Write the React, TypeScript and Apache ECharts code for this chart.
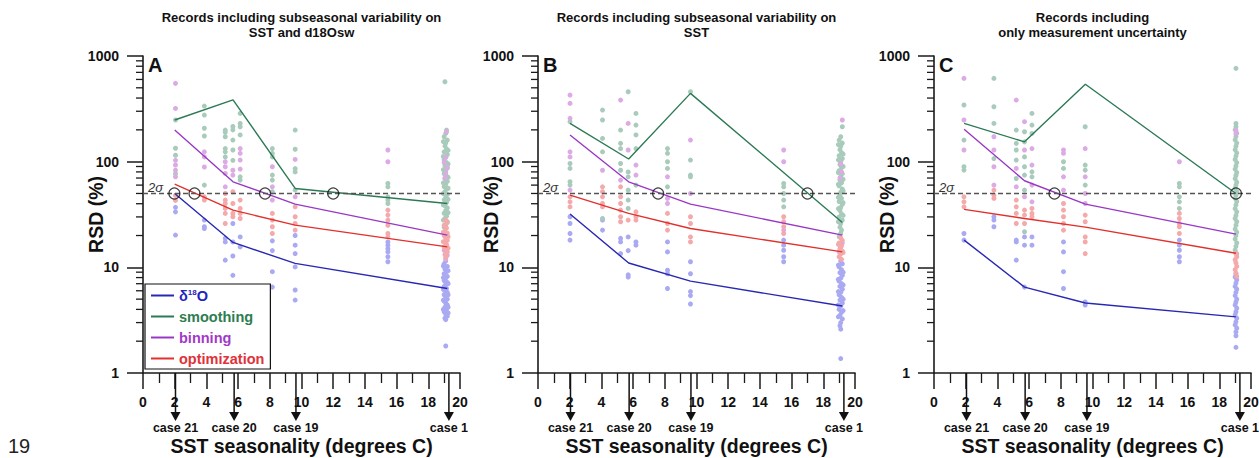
import React, { useEffect, useRef } from "react";
import * as echarts from "echarts";

const FONT = '"Liberation Sans", Arial, sans-serif';

// ---------- shared annotations ----------
const caseLabels = ["case 21", "case 20", "case 19", "case 1"];
const caseArrowX = [2.05, 5.75, 9.65, 19.3];
const sigmaLevel = 50;
const yMinorTickValues = [2, 3, 4, 5, 6, 7, 8, 9, 20, 30, 40, 50, 60, 70, 80, 90, 200, 300, 400, 500, 600, 700, 800, 900];
const legendNames = ["δ18O", "smoothing", "binning", "optimization"];

const titleA = ["Records including subseasonal variability on", "SST and d18Osw"];
const titleB = ["Records including subseasonal variability on", "SST"];
const titleC = ["Records including", "only measurement uncertainty"];

// ---------- panel A ----------
const lineXA = [2.0, 5.68, 9.6, 19.2];
const d18OA = [50, 17.2, 10.9, 6.3];
const smoothA = [248, 385, 55.8, 40.2];
const binA = [199, 64.5, 39.6, 20.2];
const optA = [61.3, 34.8, 25.1, 15.6];
const crossA = [1.98, 3.25, 7.7, 12.0];

const blueA = [
  [2.05, 37], [2.05, 33.5], [2.05, 20.2],
  [3.87, 28], [3.87, 24.2], [3.87, 23.3],
  [5.19, 18.8], [5.19, 17.4], [5.19, 11.7],
  [5.67, 26], [5.67, 17.4], [5.67, 12.8], [5.67, 8.4], [5.67, 6.5],
  [6.13, 19.4], [6.13, 15.6],
  [8.16, 17.8], [8.16, 14.4], [8.16, 9.1], [8.16, 6.5],
  [9.6, 20], [9.6, 16.2], [9.6, 13.5], [9.6, 10.1], [9.6, 6.1], [9.6, 4.9],
  [15.45, 17.4], [15.45, 16.2], [15.45, 15], [15.45, 14], [15.45, 12.6], [15.45, 11.3],
  [19.1, 11.5], [19.0, 10.8], [19.2, 10.2], [19.05, 9.6], [19.15, 9.1], [19.0, 8.7], [19.2, 8.2],
  [19.1, 7.9], [19.0, 7.5], [19.2, 7.2], [19.1, 6.9], [19.0, 6.6], [19.15, 6.3], [19.05, 6.0],
  [19.2, 5.8], [19.0, 5.5], [19.1, 5.3], [19.2, 5.0], [19.0, 4.8], [19.1, 4.6], [19.2, 4.4],
  [19.05, 4.2], [19.15, 4.0], [19.0, 3.8], [19.1, 3.6], [19.2, 3.45], [19.05, 3.3], [19.1, 3.2],
  [18.95, 10.3], [19.25, 9.3], [18.95, 8.0], [19.25, 7.0], [18.95, 6.2], [19.25, 5.5],
  [18.95, 4.9], [19.25, 4.2], [18.95, 4.0], [19.25, 3.7],
  [19.1, 1.8],
];
const greenA = [
  [2.05, 248], [2.05, 134], [2.05, 115], [2.05, 77],
  [3.87, 336], [3.87, 276], [3.87, 207], [3.87, 175], [3.87, 60],
  [5.19, 199], [5.19, 190], [5.19, 172], [5.19, 133], [5.19, 124], [5.19, 111],
  [5.67, 215], [5.67, 200], [5.67, 160], [5.67, 129], [5.67, 103],
  [6.13, 286], [6.13, 230], [6.13, 214], [6.13, 179], [6.13, 71.9], [6.13, 66.9],
  [8.16, 133], [8.16, 120], [8.16, 111], [8.16, 74.6], [8.16, 66.9], [8.16, 51.9],
  [9.6, 199], [9.6, 131], [9.6, 86], [9.6, 80], [9.6, 54],
  [15.45, 62.2], [15.45, 57.8], [15.45, 46.5], [15.45, 43.3], [15.45, 40.2],
  [19.05, 571], [19.15, 199], [19.1, 185], [19.0, 172], [19.2, 160], [19.1, 150], [19.05, 141],
  [19.15, 132], [19.0, 124], [19.2, 117], [19.1, 110], [19.0, 104], [19.15, 98], [19.05, 92],
  [19.2, 87], [19.1, 82], [19.0, 77], [19.15, 73], [19.05, 69], [19.2, 65], [19.1, 61],
  [19.0, 58], [19.15, 55], [19.05, 52], [19.2, 49], [19.1, 46], [19.0, 43.5], [19.15, 41],
  [19.05, 38.5], [19.2, 36.5], [19.1, 34.5], [19.0, 32.5], [19.15, 30.5], [19.05, 29],
  [19.2, 27], [19.1, 25.5], [19.0, 24],
  [18.95, 155], [19.25, 128], [18.95, 112], [19.25, 95], [18.95, 84], [19.25, 71], [18.95, 63],
  [19.25, 56], [18.95, 50], [19.25, 44], [18.95, 39], [19.25, 33], [18.95, 28],
];
const purpleA = [
  [2.05, 551], [2.05, 319], [2.05, 103], [2.05, 93], [2.05, 83], [2.05, 72],
  [3.87, 124], [3.87, 111], [3.87, 89],
  [5.19, 99.8], [5.19, 89.5], [5.19, 77.4], [5.19, 57.8],
  [5.67, 83], [5.67, 74.6],
  [6.13, 133], [6.13, 120], [6.13, 103.5], [6.13, 85],
  [8.16, 89.5], [8.16, 57.8], [8.16, 43.3],
  [9.6, 105], [9.6, 46.5],
  [15.45, 129], [15.45, 99.8],
  [19.15, 192], [19.1, 110], [19.0, 98], [19.2, 88], [19.1, 78], [19.05, 70],
  [19.15, 16], [19.0, 14.5], [19.2, 13], [19.1, 12],
];
const redA = [
  [2.05, 48], [2.05, 43],
  [3.87, 46.5], [3.87, 43.3],
  [5.19, 50], [5.19, 43.3], [5.19, 40.2], [5.19, 36.1], [5.19, 32.4], [5.19, 26],
  [5.67, 51.9], [5.67, 40.2], [5.67, 32.4], [5.67, 30.1],
  [6.13, 43.3], [6.13, 36.1], [6.13, 32.4], [6.13, 29],
  [8.16, 32.4], [8.16, 28], [8.16, 24.2], [8.16, 20.9],
  [9.6, 37.4], [9.6, 30.1], [9.6, 26], [9.6, 22.5],
  [15.45, 34.8], [15.45, 31.2], [15.45, 28], [15.45, 25], [15.45, 20.9], [15.45, 19.4],
  [19.1, 28], [19.2, 26.5], [19.0, 25], [19.15, 23.5], [19.05, 22], [19.2, 21], [19.0, 20],
  [19.1, 19], [19.2, 18], [19.05, 17.2], [19.15, 16.4], [19.0, 15.6], [19.1, 14.8], [19.2, 14],
  [19.05, 13.2], [19.1, 12.4], [18.95, 21.5], [19.25, 19.5], [18.95, 17.5], [19.25, 15.2],
];

// ---------- panel B ----------
const lineXB = [2.02, 5.72, 9.62, 19.2];
const d18OB = [32, 11, 7.4, 4.3];
const smoothB = [230, 106, 443, 26.6];
const binB = [179, 64.5, 39.6, 20.2];
const optB = [48.2, 32.4, 23.3, 14.0];
const crossB = [7.58, 17.0];

const blueB = [
  [2.02, 30.1], [2.02, 26], [2.02, 20.9], [2.02, 18.1],
  [4.07, 28], [4.07, 22.5],
  [5.21, 18.8], [5.21, 17.4], [5.21, 13.5],
  [5.69, 19.4], [5.69, 14.4], [5.69, 8.5], [5.69, 8.1],
  [6.18, 17.4], [6.18, 16.2],
  [8.17, 17.4], [8.17, 14], [8.17, 9.4], [8.17, 8.7], [8.17, 6.3],
  [9.62, 11.3], [9.62, 8.7], [9.62, 5.9], [9.62, 5.4], [9.62, 4.5],
  [15.5, 18.1], [15.5, 16.2], [15.5, 14.5], [15.5, 12.6], [15.5, 11.3],
  [19.1, 11.5], [19.2, 10.8], [19.0, 10.1], [19.15, 9.5], [19.05, 8.9], [19.2, 8.4], [19.1, 7.9],
  [19.0, 7.4], [19.15, 7.0], [19.05, 6.6], [19.2, 6.2], [19.1, 5.8], [19.0, 5.5], [19.15, 5.2],
  [19.05, 4.9], [19.2, 4.6], [19.1, 4.3], [19.0, 4.0], [19.15, 3.75], [19.05, 3.5], [19.2, 3.25],
  [19.1, 3.0], [19.05, 2.8], [19.1, 2.6],
  [18.95, 10.5], [19.25, 9.0], [18.95, 7.7], [19.25, 6.8], [18.95, 5.9], [19.25, 5.0],
  [18.95, 4.4], [19.25, 3.9], [18.95, 3.4],
  [19.1, 1.37],
];
const greenB = [
  [2.02, 239], [2.02, 96], [2.02, 86.3], [2.02, 64.5], [2.02, 60],
  [4.07, 308], [4.07, 248], [4.07, 166], [4.07, 124], [4.07, 29],
  [5.21, 199], [5.21, 149], [5.21, 133], [5.21, 96], [5.21, 83],
  [5.69, 459], [5.69, 80], [5.69, 71.9], [5.69, 53.8], [5.69, 43.3], [5.69, 36.1],
  [6.18, 286], [6.18, 222], [6.18, 179], [6.18, 133], [6.18, 60],
  [8.17, 133], [8.17, 120], [8.17, 99.8], [8.17, 86.3], [8.17, 57.8],
  [9.62, 459], [9.62, 103.5], [9.62, 74.6], [9.62, 71.9],
  [15.5, 62.2], [15.5, 57.8], [15.5, 50], [15.5, 43.3], [15.5, 37.4],
  [19.2, 214], [19.1, 172], [19.0, 160], [19.2, 150], [19.1, 140], [19.05, 130], [19.15, 122],
  [19.0, 114], [19.2, 107], [19.1, 100], [19.05, 94], [19.15, 88], [19.0, 82], [19.2, 77],
  [19.1, 72], [19.05, 67], [19.15, 63], [19.0, 59], [19.2, 55], [19.1, 51.5], [19.05, 48],
  [19.15, 45], [19.0, 42], [19.2, 39.5], [19.1, 37], [19.05, 34.5], [19.15, 32], [19.0, 30],
  [19.2, 28], [19.1, 26], [19.05, 24], [19.15, 22.5], [19.1, 21], [19.0, 19.5],
  [18.95, 145], [19.25, 118], [18.95, 104], [19.25, 90], [18.95, 79], [19.25, 68], [18.95, 61],
  [19.25, 53], [18.95, 46], [19.25, 41], [18.95, 36], [19.25, 31], [18.95, 27],
];
const purpleB = [
  [2.02, 427], [2.02, 356], [2.02, 257], [2.02, 124], [2.02, 111], [2.02, 53.8],
  [4.07, 83],
  [5.21, 383], [5.21, 66.9],
  [5.69, 230], [5.69, 129],
  [6.18, 92.9], [6.18, 74.6],
  [8.17, 71.9], [8.17, 44.9], [8.17, 40.2],
  [9.62, 160], [9.62, 50],
  [15.5, 129], [15.5, 99.8], [15.5, 22.5],
  [19.2, 248], [19.1, 95], [19.15, 80], [19.05, 70], [19.2, 17], [19.1, 15.5], [19.0, 14],
];
const redB = [
  [2.02, 46.5], [2.02, 41.7], [2.02, 37.4],
  [4.07, 57.8], [4.07, 51.9], [4.07, 46.5], [4.07, 40.2], [4.07, 37.4],
  [5.21, 57.8], [5.21, 46.5], [5.21, 40.2], [5.21, 34.8], [5.21, 30.1], [5.21, 27],
  [5.69, 28],
  [6.18, 33.5], [6.18, 30.1], [6.18, 28],
  [8.17, 32.4], [8.17, 26], [8.17, 22.5],
  [9.62, 30.1], [9.62, 26], [9.62, 19.4], [9.62, 17.4],
  [15.5, 30.1], [15.5, 27], [15.5, 24.2], [15.5, 20.9],
  [19.1, 19], [19.2, 18], [19.0, 17], [19.15, 16], [19.05, 15], [19.2, 14.2], [19.1, 13.4],
  [19.0, 12.6], [19.15, 11.9], [18.95, 16.5], [19.25, 13.8],
];

// ---------- panel C ----------
const lineXC = [1.9, 5.71, 9.55, 19.05];
const d18OC = [18.1, 6.5, 4.6, 3.4];
const smoothC = [230, 154, 540, 50];
const binC = [203, 66, 39.6, 20.6];
const optC = [35.4, 29, 24, 13.6];
const crossC = [7.6, 19.05];

const blueC = [
  [1.89, 20.9], [1.89, 18.1],
  [3.78, 30.1], [3.78, 28], [3.78, 24.2],
  [5.19, 18.1], [5.19, 17.4], [5.19, 11.7],
  [5.71, 19.4], [5.71, 16.2], [5.71, 6.5],
  [6.18, 19.4], [6.18, 16.2],
  [8.17, 17.4], [8.17, 14], [8.17, 9.1], [8.17, 6.3],
  [9.54, 4.7], [9.54, 4.4],
  [15.48, 18.1], [15.48, 16.2], [15.48, 14.5], [15.48, 12.6], [15.48, 11.3],
  [19.05, 8.7], [19.0, 8.1], [19.1, 7.6], [19.05, 7.1], [19.0, 6.6], [19.1, 6.2], [19.05, 5.8],
  [19.0, 5.4], [19.1, 5.0], [19.05, 4.7], [19.0, 4.4], [19.1, 4.1], [19.05, 3.8], [19.0, 3.55],
  [19.1, 3.3], [19.05, 3.05], [19.0, 2.85], [19.1, 2.65], [19.05, 2.45], [19.05, 2.25],
  [19.05, 1.75],
];
const greenC = [
  [1.89, 344], [1.89, 160], [1.89, 89.5], [1.89, 83.2],
  [3.78, 614], [3.78, 331], [3.78, 230], [3.78, 107],
  [5.19, 199], [5.19, 149], [5.19, 129], [5.19, 103.5], [5.19, 69.3],
  [5.71, 192], [5.71, 154], [5.71, 111], [5.71, 89.5], [5.71, 74.6], [5.71, 53.8], [5.71, 21.7],
  [6.18, 286], [6.18, 222], [6.18, 185], [6.18, 80.2], [6.18, 71.9],
  [8.17, 99.8], [8.17, 86.3],
  [9.54, 214], [9.54, 92.9], [9.54, 83.2], [9.54, 60],
  [15.48, 62.2], [15.48, 57.8], [15.48, 46.5], [15.48, 41.7], [15.48, 36.1],
  [19.05, 764], [19.05, 230], [19.05, 214], [19.0, 200], [19.1, 186], [19.05, 173], [19.0, 161],
  [19.1, 150], [19.05, 140], [19.0, 130], [19.1, 121], [19.05, 113], [19.0, 105], [19.1, 98],
  [19.05, 91], [19.0, 85], [19.1, 79], [19.05, 74], [19.0, 69], [19.1, 64], [19.05, 60],
  [19.0, 56], [19.1, 52], [19.05, 48], [19.0, 45], [19.1, 42], [19.05, 39], [19.0, 36],
  [19.1, 33.5], [19.05, 31], [19.0, 29], [19.1, 27], [19.05, 25], [19.0, 23], [19.1, 21.5],
  [19.05, 20], [19.0, 18.5], [19.1, 17], [19.05, 15.8], [19.0, 14.6], [19.1, 13.5],
];
const purpleC = [
  [1.89, 614], [1.89, 248], [1.89, 129],
  [3.78, 172], [3.78, 129], [3.78, 89.5], [3.78, 60],
  [5.19, 383], [5.19, 86.3], [5.19, 57.8],
  [5.71, 239], [5.71, 129], [5.71, 46.5],
  [6.18, 133], [6.18, 92.9], [6.18, 60], [6.18, 41.7],
  [8.17, 129], [8.17, 120], [8.17, 71.9], [8.17, 53.8],
  [9.54, 133], [9.54, 71.9], [9.54, 50], [9.54, 40.2],
  [15.48, 99.8],
  [19.05, 199], [19.05, 185],
];
const redC = [
  [1.89, 46.5], [1.89, 41.7], [1.89, 37.4],
  [3.78, 53.8], [3.78, 48.2], [3.78, 44.9],
  [5.19, 43.3], [5.19, 37.4], [5.19, 32.4], [5.19, 26],
  [5.71, 34.8], [5.71, 31.2], [5.71, 26],
  [6.18, 36.1], [6.18, 32.4], [6.18, 30.1],
  [8.17, 40.2], [8.17, 34.8], [8.17, 30.1], [8.17, 26], [8.17, 22.5],
  [9.54, 31.2], [9.54, 27], [9.54, 19.4], [9.54, 17.4], [9.54, 13.5],
  [15.48, 32.4], [15.48, 29], [15.48, 26], [15.48, 24.2], [15.48, 20.9],
  [19.05, 13.5], [19.1, 12.6], [19.0, 11.8], [19.05, 11], [19.1, 10.2], [19.0, 9.5],
  [19.05, 8.8], [19.1, 8.2],
];

// ---------- styling ----------
const lineColors = ["#2828b4", "#2c7a55", "#9a38c6", "#e2302c"];
const legendTextColors = ["#2323c0", "#2e7d50", "#a238c8", "#e03238"];
const dotColors = ["#aaaaf2", "#a9cbbb", "#dcaae4", "#f4a9ab"];
const AXIS = "#1a1a1a";

const panels = [
  { letter: "A", title: titleA, left: 143, lineX: lineXA, lines: [d18OA, smoothA, binA, optA], dots: [blueA, greenA, purpleA, redA], cross: crossA },
  { letter: "B", title: titleB, left: 538, lineX: lineXB, lines: [d18OB, smoothB, binB, optB], dots: [blueB, greenB, purpleB, redB], cross: crossB },
  { letter: "C", title: titleC, left: 934, lineX: lineXC, lines: [d18OC, smoothC, binC, optC], dots: [blueC, greenC, purpleC, redC], cross: crossC },
];
const GRID_TOP = 56;
const GRID_W = 317;
const GRID_H = 317;

function buildOption() {
  const grid: any[] = [];
  const xAxis: any[] = [];
  const yAxis: any[] = [];
  const series: any[] = [];
  const graphic: any[] = [];

  panels.forEach((p, i) => {
    grid.push({ left: p.left, top: GRID_TOP, width: GRID_W, height: GRID_H, containLabel: false, outerBoundsMode: "none" });
    xAxis.push({
      type: "value", gridIndex: i, min: 0, max: 20, interval: 2,
      axisLine: { show: true, onZero: false, lineStyle: { color: AXIS, width: 1.6 } },
      axisTick: { show: true, length: 16, lineStyle: { color: AXIS, width: 1.5 } },
      minorTick: { show: true, splitNumber: 2, length: 10, lineStyle: { color: AXIS, width: 1.3 } },
      axisLabel: { margin: 22, fontSize: 14, fontWeight: "bold", color: "#111", fontFamily: FONT },
      splitLine: { show: false }, minorSplitLine: { show: false },
      name: "SST seasonality (degrees C)", nameLocation: "middle", nameGap: 63, nameMoveOverlap: false,
      nameTextStyle: { fontSize: 19.5, fontWeight: "bold", color: "#111", fontFamily: FONT },
    });
    yAxis.push({
      type: "log", logBase: 10, gridIndex: i, min: 1, max: 1000,
      axisLine: { show: true, lineStyle: { color: AXIS, width: 1.6 } },
      axisTick: { show: true, length: 16, lineStyle: { color: AXIS, width: 1.5 } },
      axisLabel: { margin: 24, fontSize: 14, fontWeight: "bold", color: "#111", fontFamily: FONT, formatter: (v: number) => String(Math.round(v)) },
      splitLine: { show: false },
      name: "RSD (%)", nameLocation: "middle", nameGap: 37, nameMoveOverlap: false,
      nameTextStyle: { fontSize: 19.5, fontWeight: "bold", color: "#111", fontFamily: FONT },
    });

    // scatter clouds
    p.dots.forEach((d, k) => {
      series.push({
        type: "scatter", xAxisIndex: i, yAxisIndex: i, data: d, symbolSize: 5, silent: true, z: 2,
        itemStyle: { color: dotColors[k], opacity: 1 },
      });
    });
    // summary lines
    p.lines.forEach((vals, k) => {
      series.push({
        type: "line", name: legendNames[k], xAxisIndex: i, yAxisIndex: i,
        data: p.lineX.map((x, j) => [x, vals[j]]), showSymbol: false, silent: true, z: 3,
        lineStyle: { color: lineColors[k], width: 1.4 }, itemStyle: { color: lineColors[k] },
      });
    });
    // 2 sigma dashed line
    series.push({
      type: "line", xAxisIndex: i, yAxisIndex: i, data: [[0, sigmaLevel], [20, sigmaLevel]],
      showSymbol: false, silent: true, z: 4,
      lineStyle: { color: "#555", width: 1.5, type: [5, 3] },
    });
    // crossing circles
    series.push({
      type: "scatter", xAxisIndex: i, yAxisIndex: i, data: p.cross.map((x) => [x, sigmaLevel]),
      symbol: "circle", symbolSize: 11, silent: true, z: 5,
      itemStyle: { color: "rgba(0,0,0,0)", borderColor: "#111", borderWidth: 1.2 },
    });
    // y minor ticks
    series.push({
      type: "custom", xAxisIndex: i, yAxisIndex: i, silent: true, z: 6, clip: false,
      data: yMinorTickValues.map((v) => [0, v]), encode: { x: 0, y: 1 },
      renderItem: (params: any, api: any) => {
        const pt = api.coord([api.value(0), api.value(1)]);
        return { type: "line", shape: { x1: pt[0] - 7, y1: pt[1], x2: pt[0], y2: pt[1] }, style: { stroke: AXIS, lineWidth: 1.3 } };
      },
    });
    // case arrows
    series.push({
      type: "custom", xAxisIndex: i, yAxisIndex: i, silent: true, z: 6, clip: false,
      data: caseArrowX.map((x, j) => [x, 1, j]), encode: { x: 0, y: 1 },
      renderItem: (params: any, api: any) => {
        const pt = api.coord([api.value(0), api.value(1)]);
        const idx = api.value(2);
        return {
          type: "group",
          children: [
            { type: "line", shape: { x1: pt[0], y1: pt[1], x2: pt[0], y2: pt[1] + 41 }, style: { stroke: "#111", lineWidth: 1.5 } },
            { type: "polygon", shape: { points: [[pt[0] - 5, pt[1] + 39], [pt[0] + 5, pt[1] + 39], [pt[0], pt[1] + 48]] }, style: { fill: "#111" } },
            {
              type: "text", x: pt[0], y: pt[1] + 55,
              style: { text: caseLabels[idx], align: "center", verticalAlign: "middle", textAlign: "center", textVerticalAlign: "middle", fontSize: 12.5, fontWeight: "bold", fontFamily: FONT, fill: "#111" },
            },
          ],
        };
      },
    });

    const cx = p.left + GRID_W / 2;
    p.title.forEach((t, j) => {
      graphic.push({
        type: "text", x: cx, y: 17 + j * 15.6, silent: true,
        style: { text: t, align: "center", verticalAlign: "middle", textAlign: "center", textVerticalAlign: "middle", fontSize: 13, fontWeight: "bold", fontFamily: FONT, fill: "#111" },
      });
    });
    graphic.push({
      type: "text", x: p.left + 5, y: 65, silent: true,
      style: { text: p.letter, align: "left", verticalAlign: "middle", textAlign: "left", textVerticalAlign: "middle", fontSize: 20, fontWeight: "bold", fontFamily: FONT, fill: "#111" },
    });
    graphic.push({
      type: "text", x: p.left + 5, y: 187, silent: true,
      style: { text: "2σ", align: "left", verticalAlign: "middle", textAlign: "left", textVerticalAlign: "middle", fontSize: 13, fontStyle: "italic", fontFamily: FONT, fill: "#333" },
    });
  });

  graphic.push({
    type: "text", x: 8, y: 446, silent: true,
    style: { text: "19", align: "left", verticalAlign: "middle", textAlign: "left", textVerticalAlign: "middle", fontSize: 20, fontFamily: FONT, fill: "#222" },
  });

  return {
    animation: false,
    backgroundColor: "#fff",
    textStyle: { fontFamily: FONT },
    grid, xAxis, yAxis, series, graphic,
    legend: {
      left: 145, top: 284, orient: "vertical", icon: "rect", itemWidth: 23, itemHeight: 2, itemGap: 4,
      padding: [3, 6, 2, 6], borderColor: "#111", borderWidth: 1.2, backgroundColor: "#fff",
      selectedMode: false, z: 10,
      formatter: (name: string) => (name === "δ18O" ? "{d|δ}{s|18}{d|O}" : name),
      textStyle: {
        fontSize: 14.5, fontWeight: "bold", fontFamily: FONT, lineHeight: 17,
        rich: {
          d: { fontSize: 14.5, fontWeight: "bold", color: legendTextColors[0], fontFamily: FONT },
          s: { fontSize: 8, fontWeight: "bold", color: legendTextColors[0], fontFamily: FONT, padding: [0, 0, 7, 0] },
        },
      },
      data: legendNames.map((n, k) => ({ name: n, textStyle: { color: legendTextColors[k] } })),
    },
  };
}

export default function App() {
  const ref = useRef<HTMLDivElement>(null);
  useEffect(() => {
    if (!ref.current) return;
    const chart = echarts.init(ref.current, undefined, { renderer: "svg" });
    chart.setOption(buildOption() as any);
    return () => chart.dispose();
  }, []);
  return <div ref={ref} style={{ position: "fixed", left: 0, top: 0, width: 1259, height: 458, background: "#fff" }} />;
}
